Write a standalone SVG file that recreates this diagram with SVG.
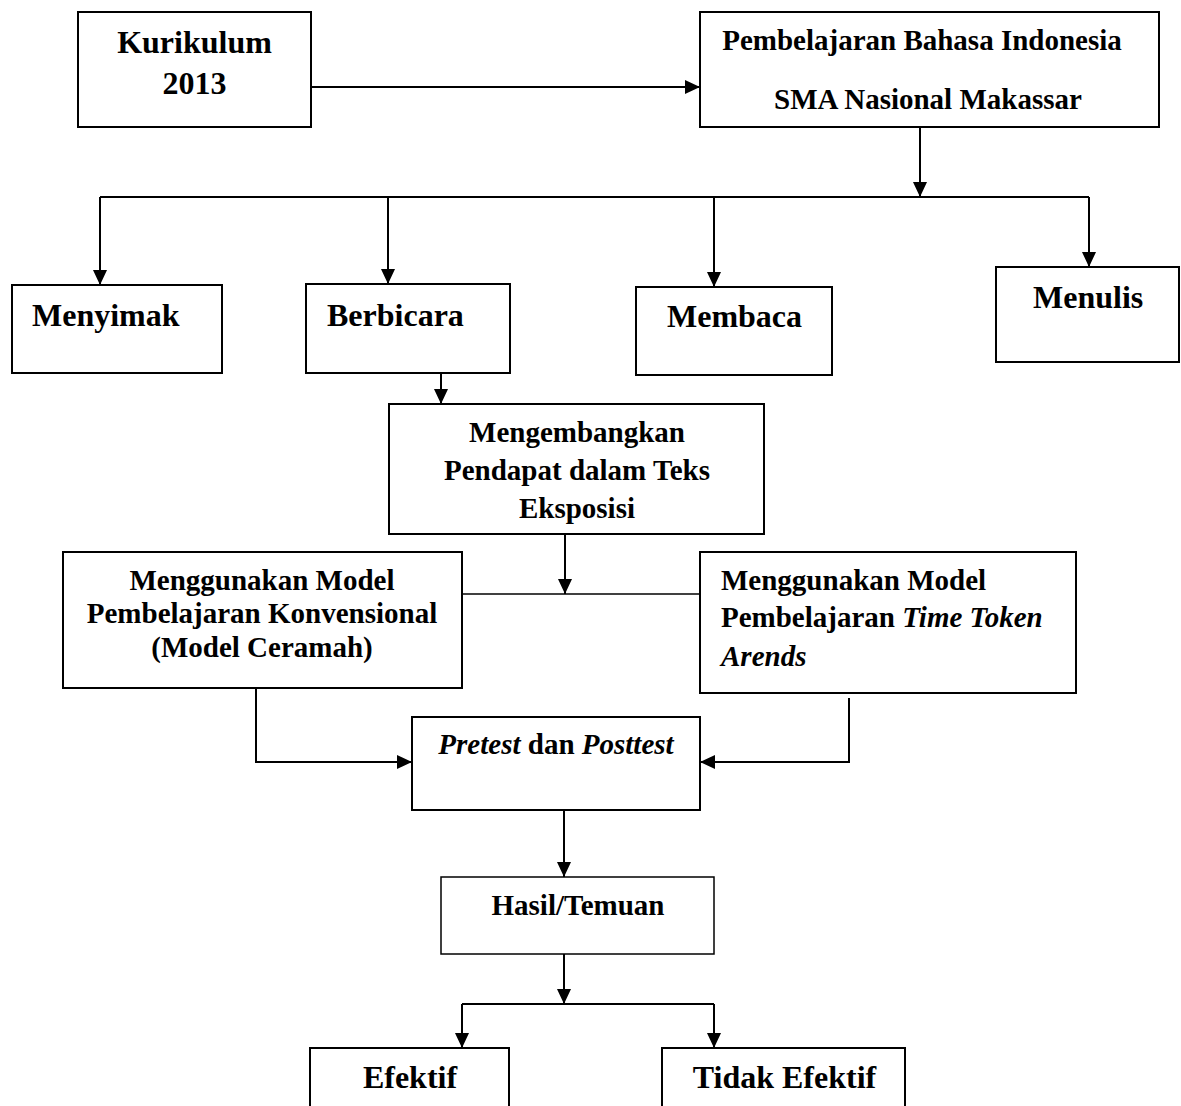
<svg xmlns="http://www.w3.org/2000/svg" width="1181" height="1106" viewBox="0 0 1181 1106">
<style>
.box{fill:#fff;stroke:#000;stroke-width:2}
.t{font-family:"Liberation Serif","Times New Roman",serif;font-weight:bold;fill:#000}
.L{font-size:32px}
.M{font-size:29px}
.c{text-anchor:middle}
.i{font-style:italic}
.ln{fill:none;stroke:#000;stroke-width:2}
</style>
<defs>
<marker id="ah" markerUnits="userSpaceOnUse" markerWidth="15" markerHeight="14" refX="15" refY="7" orient="auto">
<path d="M0,0 L15,7 L0,14 z" fill="#000"/>
</marker>
</defs>
<rect width="1181" height="1106" fill="#fff"/>
<g id="connectors">
<line class="ln" x1="311" y1="87" x2="700" y2="87" marker-end="url(#ah)"/>
<line class="ln" x1="920" y1="127" x2="920" y2="197" marker-end="url(#ah)"/>
<line class="ln" x1="100" y1="197" x2="1089" y2="197"/>
<line class="ln" x1="100" y1="197" x2="100" y2="285" marker-end="url(#ah)"/>
<line class="ln" x1="388" y1="197" x2="388" y2="284" marker-end="url(#ah)"/>
<line class="ln" x1="714" y1="197" x2="714" y2="287" marker-end="url(#ah)"/>
<line class="ln" x1="1089" y1="197" x2="1089" y2="267" marker-end="url(#ah)"/>
<line class="ln" x1="441" y1="373" x2="441" y2="404" marker-end="url(#ah)"/>
<line class="ln" x1="565" y1="534" x2="565" y2="594" marker-end="url(#ah)"/>
<line class="ln" x1="462" y1="594" x2="700" y2="594" style="stroke-width:1.5"/>
<path class="ln" d="M256,688 V762 H412" marker-end="url(#ah)"/>
<path class="ln" d="M849,698 V762 H700" marker-end="url(#ah)"/>
<line class="ln" x1="564" y1="810" x2="564" y2="877" marker-end="url(#ah)"/>
<line class="ln" x1="564" y1="954" x2="564" y2="1004" marker-end="url(#ah)"/>
<line class="ln" x1="462" y1="1004" x2="714" y2="1004"/>
<line class="ln" x1="462" y1="1004" x2="462" y2="1048" marker-end="url(#ah)"/>
<line class="ln" x1="714" y1="1004" x2="714" y2="1048" marker-end="url(#ah)"/>
</g>
<g id="kurikulum">
<rect class="box" x="78" y="12" width="233" height="115"/>
<text class="t L c" x="194.5" y="53">Kurikulum</text>
<text class="t L c" x="194.5" y="94">2013</text>
</g>
<g id="pembelajaran">
<rect class="box" x="700" y="12" width="459" height="115"/>
<text class="t M c" x="922" y="50">Pembelajaran Bahasa Indonesia</text>
<text class="t M c" x="928" y="109">SMA Nasional Makassar</text>
</g>
<g id="menyimak">
<rect class="box" x="12" y="285" width="210" height="88"/>
<text class="t L" x="32" y="326">Menyimak</text>
</g>
<g id="berbicara">
<rect class="box" x="306" y="284" width="204" height="89"/>
<text class="t L" x="327" y="326">Berbicara</text>
</g>
<g id="membaca">
<rect class="box" x="636" y="287" width="196" height="88"/>
<text class="t L" x="667" y="327">Membaca</text>
</g>
<g id="menulis">
<rect class="box" x="996" y="267" width="183" height="95"/>
<text class="t L" x="1033" y="308">Menulis</text>
</g>
<g id="mengembangkan">
<rect class="box" x="389" y="404" width="375" height="130"/>
<text class="t M c" x="577" y="442">Mengembangkan</text>
<text class="t M c" x="577" y="480">Pendapat dalam Teks</text>
<text class="t M c" x="577" y="518">Eksposisi</text>
</g>
<g id="model-konvensional">
<rect class="box" x="63" y="552" width="399" height="136"/>
<text class="t M c" x="262" y="590">Menggunakan Model</text>
<text class="t M c" x="262" y="623">Pembelajaran Konvensional</text>
<text class="t M c" x="262" y="657">(Model Ceramah)</text>
</g>
<g id="model-time-token">
<rect class="box" x="700" y="552" width="376" height="141"/>
<text class="t M" x="721" y="590">Menggunakan Model</text>
<text class="t M" x="721" y="627">Pembelajaran <tspan class="i">Time Token</tspan></text>
<text class="t M i" x="721" y="666">Arends</text>
</g>
<g id="pretest-posttest">
<rect class="box" x="412" y="717" width="288" height="93"/>
<text class="t M c" x="556" y="754"><tspan class="i">Pretest</tspan> dan <tspan class="i">Posttest</tspan></text>
</g>
<g id="hasil">
<rect class="box" x="441" y="877" width="273" height="77" style="stroke-width:1.5"/>
<text class="t M c" x="578" y="915">Hasil/Temuan</text>
</g>
<g id="efektif">
<rect class="box" x="310" y="1048" width="199" height="80"/>
<text class="t L c" x="410" y="1088">Efektif</text>
</g>
<g id="tidak-efektif">
<rect class="box" x="662" y="1048" width="243" height="80"/>
<text class="t L c" x="784.5" y="1088">Tidak Efektif</text>
</g>
</svg>
